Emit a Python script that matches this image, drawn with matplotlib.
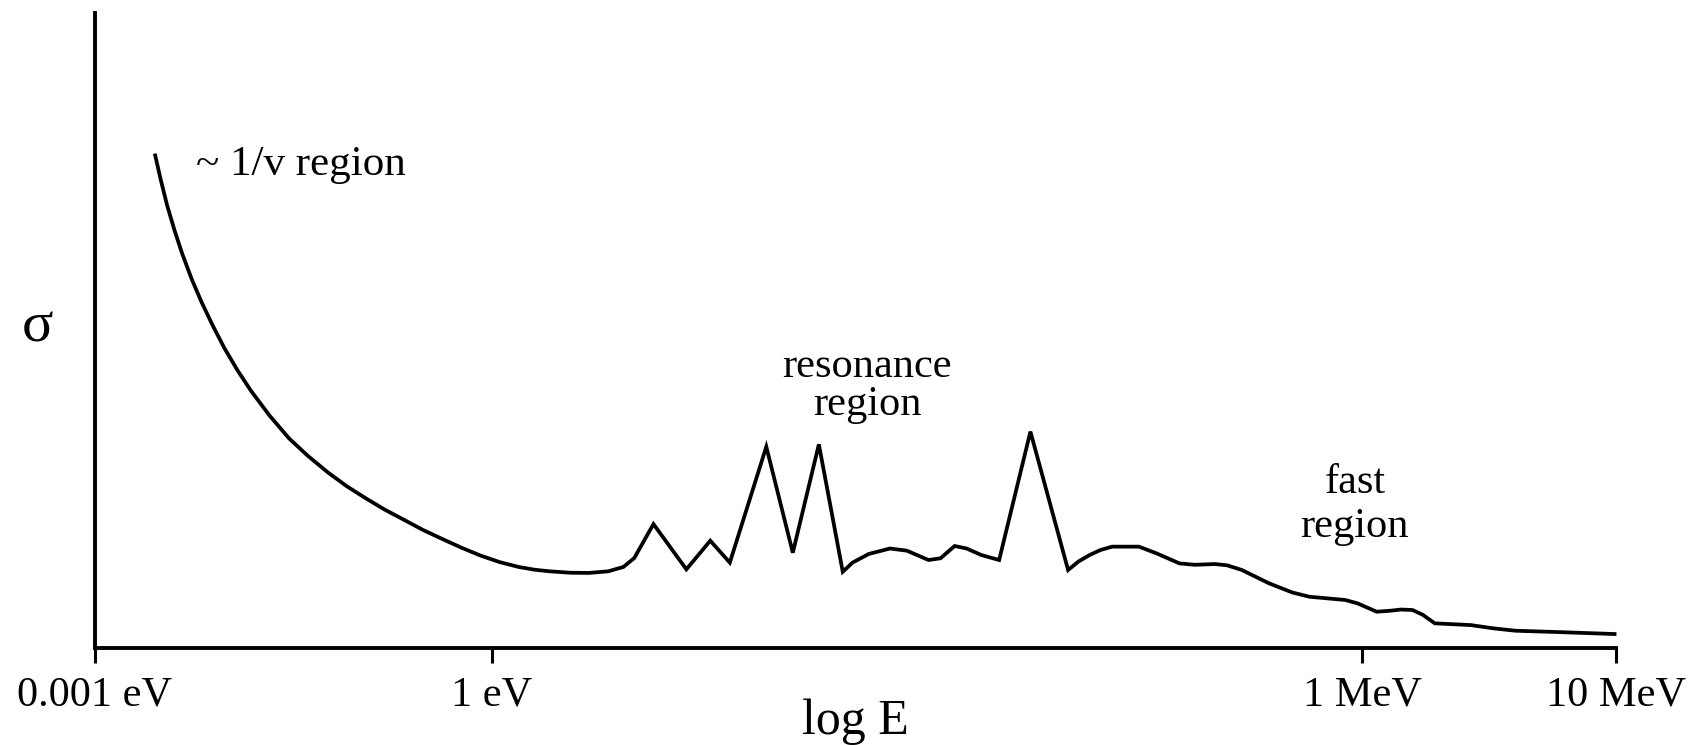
import matplotlib
matplotlib.use("Agg")
import matplotlib.pyplot as plt

plt.rcParams['font.family'] = ['Liberation Serif', 'DejaVu Serif']

# Position along the schematic log E axis (arbitrary units: 0 = 0.001 eV, 1401 = 10 MeV)
energy_pos = [55.5, 61, 66.8, 73.8, 80.9, 89.5, 98.5, 109, 119.6, 131.7,
              144.2, 161.5, 179.4, 196.8, 214.6, 232, 249.8, 267.4, 285, 302.6,
              320.2, 337.8, 355.4, 373, 390.6, 405, 419, 438, 455, 473,
              487, 497, 514.7, 545, 567, 585, 618.6, 643, 667, 689,
              698, 713, 732.5, 748, 768, 779, 792, 803, 816.6, 833,
              861.8, 896.5, 906, 916.3, 926, 937, 961.7, 978, 999, 1013,
              1031.7, 1043, 1056.5, 1081.4, 1103, 1118.6, 1151.7, 1163, 1180.6, 1193,
              1203, 1213.6, 1223, 1234.2, 1267.3, 1288, 1308.5, 1349.8, 1401.4]
# Cross section sigma (arbitrary units)
sigma = [455.2, 431.1, 407.8, 384.1, 362.6, 339.6, 318.6, 296.6, 276.1, 255.6,
         236.6, 213.6, 192.7, 176.6, 161.9, 149.1, 137.8, 127.3, 118, 108.6,
         100.4, 92.4, 85.1, 79.1, 74.6, 72.1, 70.6, 69.3, 69.1, 70.6,
         74.6, 82.8, 114.1, 72.4, 98.8, 78.6, 185.3, 87.7, 187.5, 70.2,
         78.6, 86.6, 91.6, 89.6, 81, 82.6, 93.9, 91.6, 85.6, 81,
         199.2, 71.8, 79.6, 85.6, 90.1, 93.3, 93.3, 87.1, 77.9, 76.6,
         77.3, 76.1, 71.8, 59.6, 51.1, 47.2, 44.2, 41.1, 33.4, 34.3,
         35.4, 35, 30.6, 22.7, 21.1, 18.1, 15.9, 14.6, 12.8]
assert len(energy_pos) == len(sigma)

tick_pos = [0, 366, 1167.5, 1401]
tick_labels = ['0.001 eV', '1 eV', '1 MeV', '10 MeV']

W, H = 1703, 745
fig = plt.figure(figsize=(W / 100, H / 100), dpi=100)
x0, x1 = 94.5, 1616
y0, y1 = 648, 13
ax = fig.add_axes([x0 / W, 1 - y0 / H, (x1 - x0) / W, (y0 - y1) / H])

ax.plot(energy_pos, sigma, color='black', lw=2.7, solid_joinstyle='miter',
        solid_capstyle='butt', clip_on=False)

ax.set_xlim(0, 1401)
ax.set_ylim(0, 584.6)
for s in ['top', 'right']:
    ax.spines[s].set_visible(False)
for s in ['left', 'bottom']:
    ax.spines[s].set_linewidth(2.8)
    ax.spines[s].set_color('black')

ax.set_yticks([])
ax.set_xticks(tick_pos)
ax.set_xticklabels(tick_labels, fontsize=30.5)
ax.tick_params(axis='x', direction='out', length=11, width=2.2, pad=9, colors='black')

def ftext(x, y, s, size, ha):
    fig.text(x / W, 1 - y / H, s, fontsize=size, ha=ha, va='baseline', color='black')

ftext(196, 175, '~ 1/v region', 31, 'left')
ftext(867, 377, 'resonance', 30.5, 'center')
ftext(867, 415, 'region', 30.5, 'center')
ftext(1355, 493, 'fast', 30.5, 'center')
ftext(1354, 537, 'region', 30.5, 'center')
ftext(37.5, 341, 'σ', 42, 'center')
ftext(855, 734, 'log E', 36, 'center')

fig.savefig('out.png', dpi=100)
